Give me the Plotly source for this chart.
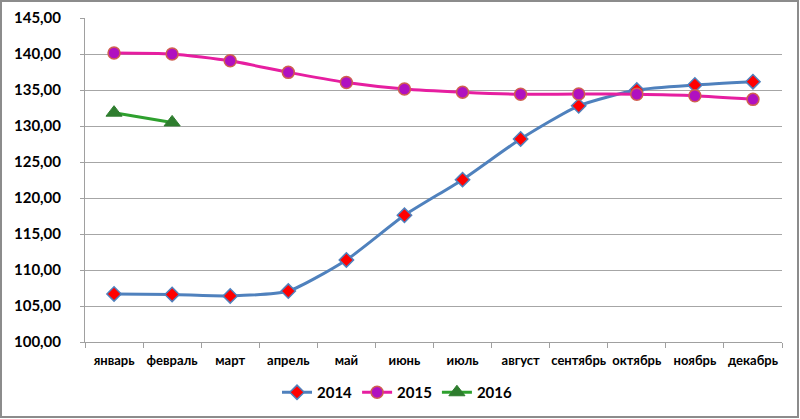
import plotly.graph_objects as go

months = ["январь", "февраль", "март", "апрель", "май", "июнь", "июль",
          "август", "сентябрь", "октябрь", "ноябрь", "декабрь"]
v2014 = [106.67, 106.60, 106.40, 107.08, 111.40, 117.60, 122.55, 128.20, 132.80, 135.00, 135.70, 136.15]
v2015 = [140.14, 140.00, 139.05, 137.45, 136.05, 135.15, 134.70, 134.40, 134.45, 134.40, 134.20, 133.70]
v2016 = [131.85, 130.50]

fig = go.Figure()
fig.add_trace(go.Scatter(
    x=months, y=v2014, name="2014", mode="lines+markers",
    line=dict(color="#4F81BD", width=3, shape="spline", smoothing=0.6),
    marker=dict(symbol="diamond", size=11, color="#FF0000", line=dict(color="#4F81BD", width=1.5))))
fig.add_trace(go.Scatter(
    x=months, y=v2015, name="2015", mode="lines+markers",
    line=dict(color="#E61EA0", width=3, shape="spline", smoothing=0.6),
    marker=dict(symbol="circle", size=12, color="#B010C0", line=dict(color="#D06050", width=1.5))))
fig.add_trace(go.Scatter(
    x=months[:len(v2016)], y=v2016, name="2016", mode="lines+markers",
    line=dict(color="#2EA02E", width=3),
    marker=dict(symbol="triangle-up", size=14, color="#2E7D2E", line=dict(color="#2E7D2E", width=1))))

L, R, T, B = 85, 18, 18, 77
W, H = 800, 419
pw, ph = W - L - R, H - T - B

def px_x(x):
    return (x - L) / pw

def px_y(y):
    return (H - B - y) / ph

fig.update_layout(
    width=W, height=H,
    margin=dict(l=L, r=R, t=T, b=B, autoexpand=False),
    paper_bgcolor="white", plot_bgcolor="white",
    separators=", ",
    font=dict(family="Lato, Open Sans, sans-serif", size=13, color="#000000"),
    showlegend=True,
    legend=dict(orientation="h", x=px_x(277), xanchor="left", y=px_y(376), yanchor="top",
                font=dict(size=15, family="Lato, sans-serif", weight="bold"),
                itemwidth=30),
    xaxis=dict(type="category", tickson="boundaries", ticks="outside", ticklen=5,
               tickcolor="#A0A0A0", showline=True, linecolor="#A0A0A0", linewidth=1,
               showgrid=False, tickfont=dict(size=13, weight="bold"), tickangle=0,
               ticklabelstandoff=6, automargin=False, range=[-0.5, 11.5]),
    yaxis=dict(range=[100, 145], dtick=5, tickformat=".2f", showgrid=True,
               gridcolor="#A6A6A6", gridwidth=1, showline=True, linecolor="#A0A0A0",
               ticks="outside", ticklen=4, tickcolor="#A0A0A0", automargin=False,
               ticklabelstandoff=16,
               tickfont=dict(size=15, weight="bold"), zeroline=False),
    shapes=[dict(type="rect", xref="paper", yref="paper",
                 x0=px_x(1), x1=px_x(W - 2),
                 y0=px_y(H - 2), y1=px_y(1),
                 line=dict(color="#8C8C8C", width=2))],
)
fig.write_html("out.html", config={"displayModeBar": False},
               post_script="document.body.style.margin='0';document.body.style.overflow='hidden';")
